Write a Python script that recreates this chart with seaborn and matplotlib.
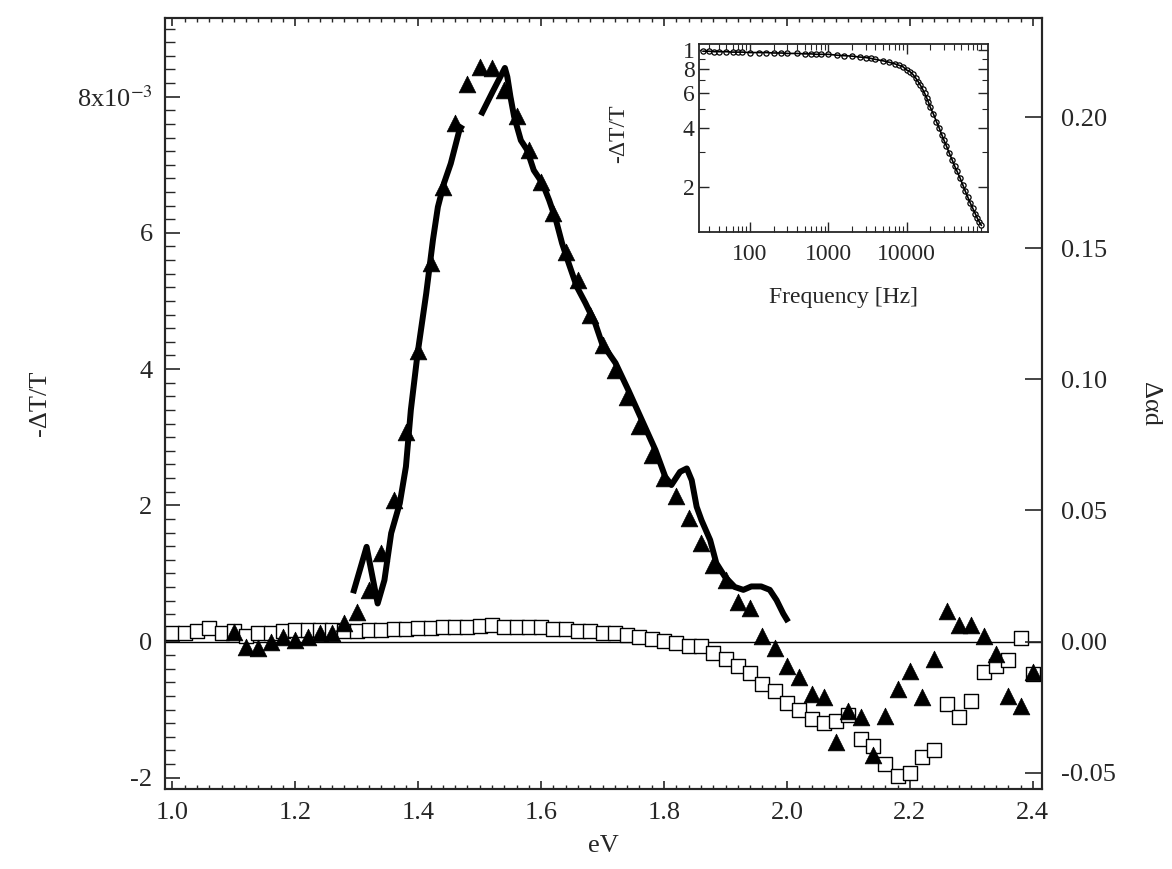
import matplotlib
matplotlib.use("Agg")
import matplotlib.pyplot as plt
import seaborn as sns
import pandas as pd
from matplotlib.ticker import MultipleLocator, FixedLocator, FixedFormatter, FormatStrFormatter, NullFormatter, LogLocator

# espectro: cuadrados (-dT/T, x1e-3)
sq_ev = [1.00, 1.02, 1.04, 1.06, 1.08, 1.10, 1.12, 1.14, 1.16, 1.18, 1.20, 1.22, 1.24, 1.26, 1.28,
         1.30, 1.32, 1.34, 1.36, 1.38, 1.40, 1.42, 1.44, 1.46, 1.48, 1.50, 1.52, 1.54, 1.56, 1.58,
         1.60, 1.62, 1.64, 1.66, 1.68, 1.70, 1.72, 1.74, 1.76, 1.78, 1.80, 1.82, 1.84, 1.86, 1.88,
         1.90, 1.92, 1.94, 1.96, 1.98, 2.00, 2.02, 2.04, 2.06, 2.08, 2.10, 2.12, 2.14, 2.16, 2.18,
         2.20, 2.22, 2.24, 2.26, 2.28, 2.30, 2.32, 2.34, 2.36, 2.38, 2.40]
sq_val = [0.12, 0.12, 0.15, 0.20, 0.12, 0.15, 0.08, 0.12, 0.13, 0.16, 0.17, 0.17, 0.17, 0.17, 0.16,
          0.16, 0.17, 0.17, 0.18, 0.18, 0.20, 0.20, 0.21, 0.21, 0.22, 0.23, 0.24, 0.22, 0.21, 0.21,
          0.21, 0.19, 0.18, 0.16, 0.15, 0.13, 0.12, 0.10, 0.07, 0.04, 0.01, -0.02, -0.07, -0.07, -0.17,
          -0.25, -0.36, -0.46, -0.62, -0.72, -0.90, -1.00, -1.14, -1.20, -1.17, -1.08, -1.43, -1.54, -1.80, -1.98,
          -1.93, -1.70, -1.59, -0.92, -1.11, -0.87, -0.45, -0.36, -0.27, 0.05, -0.47]

# triangulos (-dT/T, x1e-3)
tri_ev = [1.10, 1.12, 1.14, 1.16, 1.18, 1.20, 1.22, 1.24, 1.26, 1.28, 1.30, 1.32, 1.34, 1.36, 1.38,
          1.40, 1.42, 1.44, 1.46, 1.48, 1.50, 1.52, 1.54, 1.56, 1.58, 1.60, 1.62, 1.64, 1.66, 1.68,
          1.70, 1.72, 1.74, 1.76, 1.78, 1.80, 1.82, 1.84, 1.86, 1.88, 1.90, 1.92, 1.94, 1.96, 1.98,
          2.00, 2.02, 2.04, 2.06, 2.08, 2.10, 2.12, 2.14, 2.16, 2.18, 2.20, 2.22, 2.24, 2.26, 2.28,
          2.30, 2.32, 2.34, 2.36, 2.38, 2.40]
tri_val = [0.14, -0.08, -0.10, 0.00, 0.07, 0.02, 0.07, 0.12, 0.13, 0.27, 0.44, 0.76, 1.30, 2.08, 3.08,
           4.26, 5.56, 6.68, 7.61, 8.18, 8.44, 8.42, 8.10, 7.72, 7.22, 6.75, 6.29, 5.72, 5.31, 4.79,
           4.35, 3.99, 3.59, 3.16, 2.74, 2.40, 2.13, 1.82, 1.44, 1.12, 0.91, 0.58, 0.49, 0.08, -0.10,
           -0.36, -0.52, -0.77, -0.82, -1.48, -1.02, -1.11, -1.67, -1.09, -0.70, -0.43, -0.81, -0.25, 0.45, 0.24,
           0.24, 0.08, -0.19, -0.80, -0.94, -0.45]

# curva continua (delta alpha d), dos tramos
line_ev = [1.294, 1.316, 1.334, 1.345, 1.356, 1.370, 1.380, 1.388, 1.399, 1.413, 1.424, 1.432, 1.442, 1.453, 1.467, 1.472,
           1.502, 1.521, 1.541, 1.545, 1.550, 1.556, 1.567, 1.577, 1.588, 1.602, 1.613, 1.624, 1.634, 1.645,
           1.658, 1.672, 1.688, 1.699, 1.721, 1.742, 1.764, 1.786, 1.802, 1.812, 1.826, 1.837, 1.845, 1.853,
           1.861, 1.875, 1.885, 1.899, 1.915, 1.929, 1.942, 1.958, 1.972, 1.983, 1.994, 2.002]
line_val = [0.0184, 0.0361, 0.0145, 0.0234, 0.0413, 0.0527, 0.0667, 0.0883, 0.1099, 0.1327, 0.1532, 0.1657, 0.1748, 0.1823, 0.1950, 0.1969,
            0.2007, 0.2096, 0.2187, 0.2153, 0.2078, 0.2002, 0.1911, 0.1875, 0.1797, 0.1748, 0.1683, 0.1608, 0.1519, 0.1441,
            0.1353, 0.1291, 0.1213, 0.1137, 0.1062, 0.0958, 0.0844, 0.0730, 0.0628, 0.0597, 0.0647, 0.0660, 0.0615, 0.0514,
            0.0462, 0.0387, 0.0299, 0.0247, 0.0208, 0.0197, 0.0210, 0.0210, 0.0197, 0.0158, 0.0106, 0.0075]
line_seg = [1] * 16 + [2] * 40

# recuadro: respuesta en frecuencia normalizada
freq = [25, 30, 35, 40, 50, 60, 70, 80, 100, 130, 160, 200, 250, 300, 400, 500, 600, 700, 800, 1000,
        1300, 1600, 2000, 2500, 3000, 3500, 4000, 5000, 6000, 7000, 8000, 9000, 10000, 11000, 12000,
        13000, 14000, 15000, 16000, 17000, 18000, 19000, 20000, 22000, 24000, 26000, 28000, 30000,
        32000, 35000, 38000, 41000, 44000, 48000, 52000, 56000, 60000, 65000, 70000, 75000, 80000, 85000, 90000]
resp = [0.985, 0.985, 0.98, 0.98, 0.98, 0.975, 0.975, 0.975, 0.97, 0.97, 0.97, 0.965, 0.965, 0.96, 0.96,
        0.955, 0.955, 0.95, 0.95, 0.95, 0.94, 0.935, 0.93, 0.92, 0.915, 0.905, 0.895, 0.88, 0.865, 0.85,
        0.835, 0.82, 0.79, 0.775, 0.75, 0.72, 0.69, 0.66, 0.63, 0.60, 0.57, 0.54, 0.51, 0.47, 0.43, 0.40,
        0.37, 0.345, 0.325, 0.297, 0.275, 0.255, 0.24, 0.222, 0.205, 0.19, 0.178, 0.165, 0.155, 0.146,
        0.138, 0.132, 0.127]

sns.set_style("ticks")
plt.rcParams["font.family"] = ["Liberation Serif", "DejaVu Serif"]
plt.rcParams["mathtext.fontset"] = "stix"
plt.rcParams["axes.unicode_minus"] = False

fig = plt.figure(figsize=(11.72, 8.69), dpi=100)
ax = fig.add_axes([0.1408, 0.0917, 0.7483, 0.8876])
ax2 = ax.twinx()

df_sq = pd.DataFrame({"eV": sq_ev, "val": sq_val})
df_tri = pd.DataFrame({"eV": tri_ev, "val": tri_val})
df_line = pd.DataFrame({"eV": line_ev, "val": line_val, "seg": line_seg})

ax.axhline(0, color="black", lw=1.0, zorder=1)
sns.scatterplot(data=df_sq, x="eV", y="val", ax=ax, marker="s", s=90,
                facecolor="white", edgecolor="black", linewidth=1.0, zorder=2)
sns.scatterplot(data=df_tri, x="eV", y="val", ax=ax, marker="^", s=145,
                color="black", edgecolor="black", linewidth=0.5, zorder=3)
sns.lineplot(data=df_line, x="eV", y="val", units="seg", estimator=None, sort=False,
             ax=ax2, color="black", lw=4.3, solid_capstyle="butt", solid_joinstyle="round")

ax.set_xlim(0.988, 2.415)
ax.set_ylim(-2.17, 9.155)
ax2.set_ylim(-2.17 * 0.02597, 9.155 * 0.02597)

ax.xaxis.set_major_locator(MultipleLocator(0.2))
ax.xaxis.set_minor_locator(MultipleLocator(0.02))
ax.xaxis.set_major_formatter(FormatStrFormatter("%.1f"))
ax.yaxis.set_major_locator(FixedLocator([-2, 0, 2, 4, 6, 8]))
ax.yaxis.set_major_formatter(FixedFormatter(["-2", "0", "2", "4", "6", "8x10$^{-3}$"]))
ax.yaxis.set_minor_locator(MultipleLocator(0.2))
ax2.yaxis.set_major_locator(MultipleLocator(0.05))
ax2.yaxis.set_major_formatter(FormatStrFormatter("%.2f"))

ax.tick_params(axis="x", which="both", direction="in", top=True, bottom=True, labelsize=19, pad=9)
ax.tick_params(axis="x", which="major", length=6, width=1.2)
ax.tick_params(axis="x", which="minor", length=3.2, width=1.0)
ax.tick_params(axis="y", which="both", direction="in", left=True, right=False, labelsize=19, pad=9)
ax.tick_params(axis="y", which="major", length=11, width=1.2)
ax.tick_params(axis="y", which="minor", length=7, width=1.0)
ax2.tick_params(axis="y", which="major", direction="in", length=12, width=1.2, labelsize=19, pad=14)

for a in (ax, ax2):
    for sp in a.spines.values():
        sp.set_visible(True)
        sp.set_linewidth(1.5)

ax.set_xlabel("eV", fontsize=19, labelpad=8)
ax.set_ylabel("-ΔT/T", fontsize=19, va="center", ha="center")
ax.yaxis.set_label_coords(-0.143, 0.5)
ax2.set_ylabel("Δαd", fontsize=19, rotation=270, va="center", ha="center")
ax2.yaxis.set_label_coords(1.123, 0.5)

# recuadro
axin = fig.add_axes([0.5964, 0.7334, 0.2468, 0.2160])
df_in = pd.DataFrame({"freq": freq, "resp": resp})
sns.scatterplot(data=df_in, x="freq", y="resp", ax=axin, marker="o", s=14,
                facecolor="white", edgecolor="black", linewidth=0.9)
sns.lineplot(data=df_in, x="freq", y="resp", ax=axin, color="black", lw=1.2)
axin.set_xscale("log")
axin.set_yscale("log")
axin.set_xlim(22.3, 110000)
axin.set_ylim(0.118, 1.073)
axin.xaxis.set_major_locator(FixedLocator([100, 1000, 10000]))
axin.xaxis.set_major_formatter(FixedFormatter(["100", "1000", "10000"]))
axin.xaxis.set_minor_locator(LogLocator(base=10, subs=(2, 3, 4, 5, 6, 7, 8, 9), numticks=20))
axin.xaxis.set_minor_formatter(NullFormatter())
axin.yaxis.set_major_locator(FixedLocator([0.2, 0.4, 0.6, 0.8, 1.0]))
axin.yaxis.set_major_formatter(FixedFormatter(["2", "4", "6", "8", "1"]))
axin.yaxis.set_minor_locator(FixedLocator([0.3, 0.5, 0.7, 0.9]))
axin.yaxis.set_minor_formatter(NullFormatter())
axin.tick_params(which="both", direction="in", top=True, right=True, labelsize=17, pad=3)
axin.tick_params(axis="x", which="both", pad=9)
axin.tick_params(which="major", length=7, width=1.0)
axin.tick_params(which="minor", length=4, width=0.8)
for sp in axin.spines.values():
    sp.set_linewidth(1.3)
axin.set_xlabel("Frequency [Hz]", fontsize=17, labelpad=16)
axin.set_ylabel("-ΔT/T", fontsize=17)
axin.yaxis.set_label_coords(-0.24, 0.52)

fig.savefig("out.png", dpi=100)
